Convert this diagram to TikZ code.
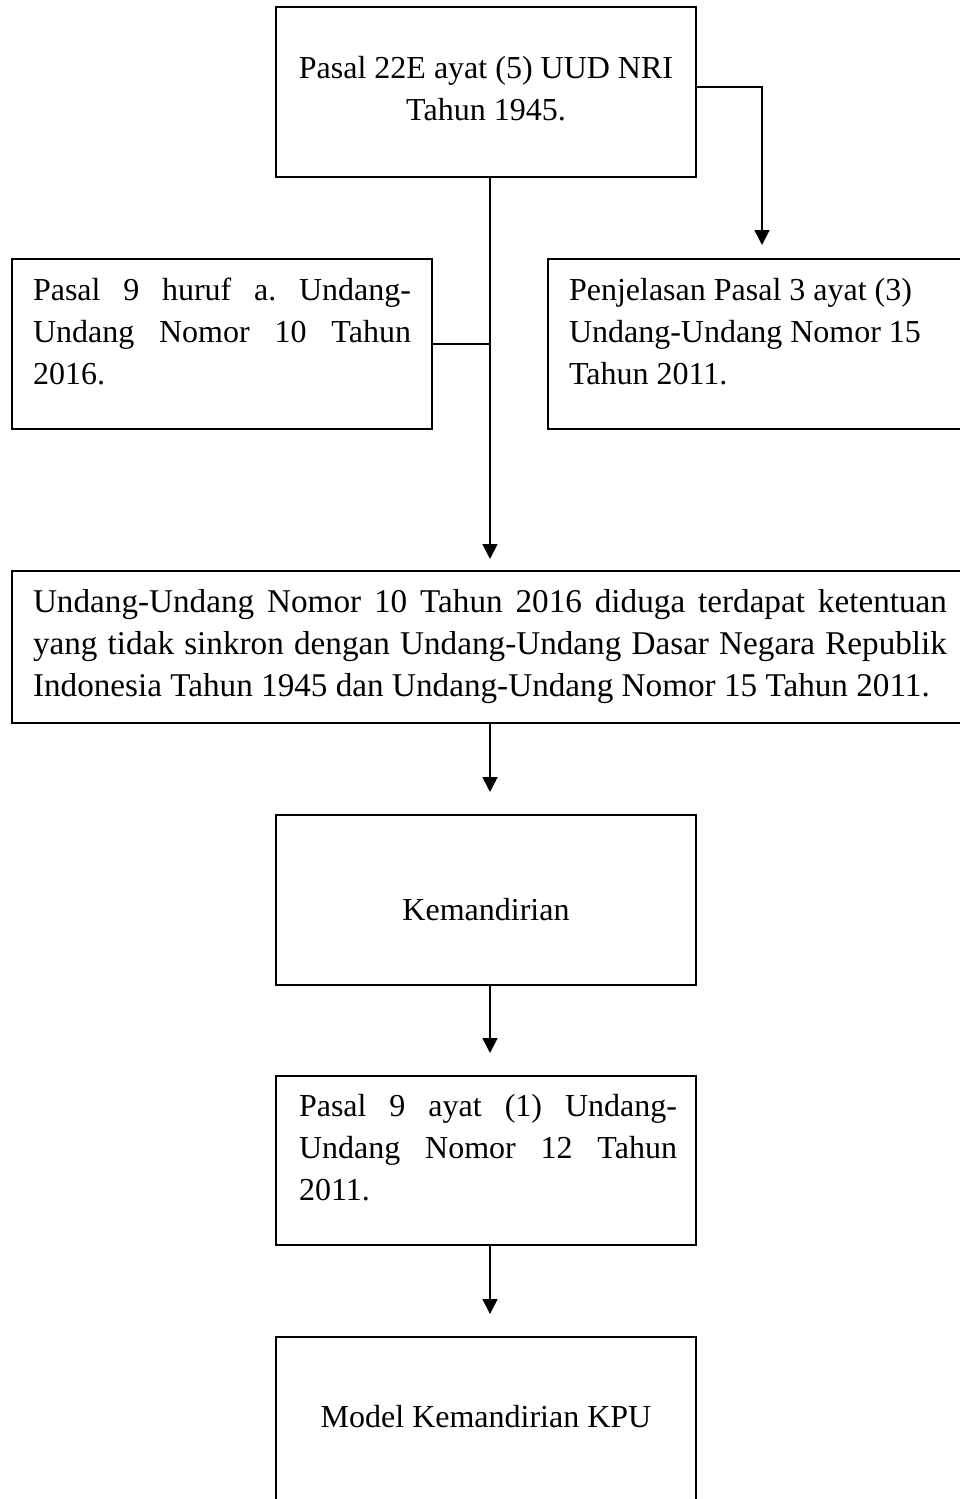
\documentclass[tikz,border=0pt]{standalone}
\usepackage{fontspec}
\setmainfont{Liberation Serif}
\usetikzlibrary{arrows.meta}
\tolerance=10000
\hyphenpenalty=10000
\frenchspacing
\begin{document}
\begin{tikzpicture}[x=1pt,y=-1pt,
  box/.style={draw=black, line width=1.8pt, anchor=north west, inner sep=0pt, outer sep=0pt},
  txt/.style={inner sep=0pt, outer sep=0pt, anchor=base west,
    font=\fontsize{32}{42}\selectfont\frenchspacing},
  conn/.style={draw=black, line width=1.8pt},
  arr/.style={conn, -{Triangle[length=15pt,width=15pt]}}]
\useasboundingbox (0,0) rectangle (960,1499);
\clip (0,0) rectangle (960,1499);

% boxes
\node[box, minimum width=420pt, minimum height=170pt] (top)   at (276,7) {};
\node[box, minimum width=420pt, minimum height=170pt] (left)  at (12,259) {};
\node[box, minimum width=440pt, minimum height=170pt] (right) at (548,259) {};
\node[box, minimum width=1000pt, minimum height=152pt] (wide) at (12,571) {};
\node[box, minimum width=420pt, minimum height=170pt] (kem)   at (276,815) {};
\node[box, minimum width=420pt, minimum height=169pt] (pnine) at (276,1076) {};
\node[box, minimum width=420pt, minimum height=200pt] (model) at (276,1337) {};

% texts
\node[txt, anchor=base, text width=420pt, align=flush center] (ttop) at (486,78)
  {Pasal 22E ayat (5) UUD NRI\\Tahun 1945.};
\node[txt, text width=378pt, align=justify] (tleft) at (33,300)
  {Pasal 9 huruf a. Undang-\linebreak Undang Nomor 10 Tahun\linebreak 2016.};
\node[txt, text width=390pt, align=flush left] (tright) at (569,300)
  {Penjelasan Pasal 3 ayat (3)\\Undang-Undang Nomor 15\\Tahun 2011.};
\node[txt, text width=914pt, align=justify, font=\fontsize{33.2}{42}\selectfont\frenchspacing] (twide) at (33,612)
  {Undang-Undang Nomor 10 Tahun 2016 diduga terdapat ketentuan\linebreak yang tidak sinkron dengan Undang-Undang Dasar Negara Republik\linebreak Indonesia Tahun 1945 dan Undang-Undang Nomor 15 Tahun 2011.};
\node[txt, anchor=base] (tkem) at (486,920) {Kemandirian};
\node[txt, text width=378pt, align=justify] (tnine) at (299,1116)
  {Pasal 9 ayat (1) Undang-\linebreak Undang Nomor 12 Tahun\linebreak 2011.};
\node[txt, anchor=base] (tmodel) at (486,1427) {Model Kemandirian KPU};

% connectors
\coordinate (vx) at (490,0);
\coordinate (rx) at (762,0);
\draw[arr, shorten >=14pt] ([yshift=-80pt]top.north east) -| (right.north -| rx);
\draw[arr, shorten >=12pt] (top.south -| vx) -- (wide.north -| vx);
\draw[conn] (left.east) -- (left.east -| vx);
\draw[arr, shorten >=23pt] (wide.south -| vx) -- (kem.north -| vx);
\draw[arr, shorten >=23pt] (kem.south -| vx) -- (pnine.north -| vx);
\draw[arr, shorten >=23pt] (pnine.south -| vx) -- (model.north -| vx);
\end{tikzpicture}
\end{document}
